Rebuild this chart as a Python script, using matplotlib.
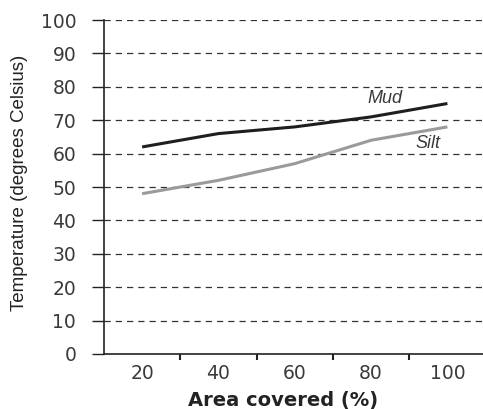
import matplotlib.pyplot as plt
import numpy as np

area = ['20', '40', '60', '80', '100']
mud = [62, 66, 68, 71, 75]
silt = [48, 52, 57, 64, 68]
yticks = [0, 10, 20, 30, 40, 50, 60, 70, 80, 90, 100]

txt = '#3a3a3a'

fig = plt.figure(figsize=(4.83, 4.09), dpi=100)
ax = fig.add_axes([0.2153, 0.1345, 0.79, 0.8165])

x = np.arange(len(area))
ax.plot(x, mud, color='#1e1e1e', lw=2.2, solid_capstyle='butt')
ax.plot(x, silt, color='#9a9a9a', lw=2.2, solid_capstyle='butt')

ax.text(3.18, 76.6, 'Mud', style='italic', fontsize=13, color=txt,
        ha='center', va='center', family='Liberation Sans')
ax.text(3.75, 63, 'Silt', style='italic', fontsize=13, color=txt,
        ha='center', va='center', family='Liberation Sans')

ax.set_xlim(-0.5, 4.5)
ax.set_ylim(0, 100)
ax.set_yticks(yticks)
ax.set_yticklabels([str(v) for v in yticks], fontsize=13.5, color=txt)
ax.set_xticks(x)
ax.set_xticklabels(area, fontsize=13.5, color=txt)
ax.tick_params(axis='x', length=0, pad=7)
ax.set_xticks(x[:-1] + 0.5, minor=True)
ax.tick_params(axis='x', which='minor', length=4, width=1.5, color='#222222')
ax.tick_params(axis='y', length=9, width=1, color='#222222', pad=11)

for v in yticks[1:]:
    ax.axhline(v, color='#333333', lw=0.9, ls=(0, (5, 4)), zorder=0)

for s in ['top', 'right']:
    ax.spines[s].set_visible(False)
ax.spines['left'].set_color('#222222')
ax.spines['bottom'].set_color('#222222')
ax.spines['left'].set_linewidth(1.2)
ax.spines['bottom'].set_linewidth(1.2)

ax.set_ylabel('Temperature (degrees Celsius)', fontsize=13.5, color='#222222',
              family='Liberation Sans')
ax.yaxis.set_label_coords(-0.2, 0.512)
ax.set_xlabel('Area covered (%)', fontsize=14, color='#222222', fontweight='bold')
ax.xaxis.set_label_coords(0.47, -0.11)

fig.savefig('out.png', dpi=100)
